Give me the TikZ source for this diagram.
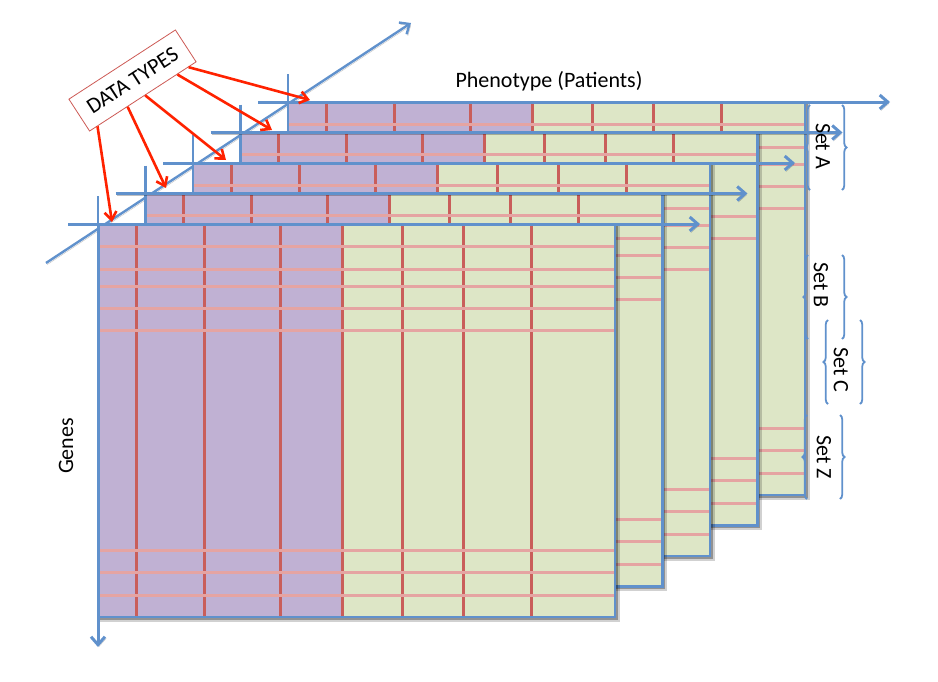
\documentclass[tikz,border=0pt]{standalone}
\usepackage{fontspec}
\setmainfont{Carlito}
\usetikzlibrary{arrows.meta,decorations.pathreplacing,calc}
\definecolor{axblue}{RGB}{96,145,204}
\definecolor{purp}{RGB}{192,177,211}
\definecolor{grn}{RGB}{221,230,198}
\definecolor{vred}{RGB}{201,94,90}
\definecolor{hpink}{RGB}{229,164,162}
\definecolor{arrred}{RGB}{255,34,0}
\definecolor{boxred}{RGB}{205,90,85}
\begin{document}
\begin{tikzpicture}[x=1pt,y=-1pt,
  axisarrow/.style={draw=axblue, line width=3pt, -{Straight Barb[length=8pt,width=14pt]},
    preaction={draw=black, opacity=0.25, transform canvas={shift={(1.2pt,-1.6pt)}}}},
  layeredge/.style={draw=axblue, line width=2.2pt},
  vline/.style={draw=vred, line width=3pt},
  hline/.style={draw=hpink, line width=3pt},
  redarrow/.style={draw=arrred, line width=2.6pt, -{Straight Barb[length=8pt,width=12pt]}},
  setbrace/.style={draw=axblue, line width=1.8pt, decorate, decoration={brace, amplitude=4.5pt}},
  lbl/.style={font=\fontsize{22}{26}\selectfont, inner sep=0pt}]
\useasboundingbox (0,0) rectangle (938,681);
\def\W{517}
\def\H{393}
\def\PW{244}
% diagonal axis
\coordinate (d0) at (46,263);
\coordinate (d1) at (411,23);
\draw[axisarrow, line width=2.4pt] (d0) -- (d1);
% layers, back to front
\foreach \i in {4,3,2,1,0}{
  \ifnum\i=3 \def\rows{22,84,106}\else \def\rows{22,45,62,84,106}\fi
  \begin{scope}[shift={({98+47.5*\i},{224-30.5*\i})}]
    \fill[black, opacity=0.18] (1,1) rectangle (\W+4.5,\H+4.5);
    \fill[black, opacity=0.3] (1,1) rectangle (\W+2.5,\H+2.5);
    \fill[purp] (0,0) rectangle (\PW,\H);
    \fill[grn] (\PW,0) rectangle (\W,\H);
    \foreach \c in {38,106,182,244,304,365,433}
      \draw[vline] (\c,0) -- (\c,\H);
    \foreach \r in \rows
      \draw[hline] (0,\r) -- (\W,\r);
    \foreach \r in {326,348,371}
      \draw[hline] (0,\r) -- (\W,\r);
    \draw[layeredge] (0,0) rectangle (\W,\H);
    \coordinate (L\i-tick) at (0,-28);
    \coordinate (L\i-tl) at (0,0);
    \coordinate (L\i-s) at (-30,0);
    \coordinate (L\i-e) at (\W+85,0);
    \draw[layeredge, line width=2.6pt] (L\i-tick) -- (L\i-tl);
    \draw[axisarrow] (L\i-s) -- (L\i-e);
  \end{scope}
}
% genes axis
\coordinate (gend) at (98,647);
\draw[axisarrow] (L0-tl) -- (gend);
% labels
\node[lbl, anchor=base] (pheno) at (549,87) {Phenotype (Patients)};
\node[lbl, rotate=90] (genes) at (66,446) {Genes};
% data types box
\node[draw=boxred, line width=0.8pt, fill=white, rotate=33, minimum width=127pt, minimum height=38pt, inner sep=0pt, font=\fontsize{22}{26}\selectfont] (dt) at (132.5,80.5) {DATA TYPES};
\coordinate (s0) at ($(dt.south west)!0.075!(dt.south east)$);
\coordinate (s1) at ($(dt.south west)!0.356!(dt.south east)$);
\coordinate (s2) at ($(dt.south west)!0.52!(dt.south east)$);
\coordinate (s3) at ($(dt.south west)!0.82!(dt.south east)$);
\coordinate (s4) at ($(dt.south west)!0.925!(dt.south east)$);
\coordinate (t0) at (112,222);
\coordinate (t1) at (166,188);
\coordinate (t2) at (226,160);
\coordinate (t3) at (272,130);
\coordinate (t4) at (310,100);
\foreach \k in {0,...,4} \draw[redarrow] (s\k) -- (t\k);
% set braces
\coordinate (A1) at (810,105); \coordinate (A2) at (810,190);
\coordinate (A3) at (842,105); \coordinate (A4) at (842,190);
\coordinate (B1) at (808,255); \coordinate (B2) at (808,339);
\coordinate (B3) at (842,255); \coordinate (B4) at (842,339);
\coordinate (C1) at (828,320); \coordinate (C2) at (828,404);
\coordinate (C3) at (860,320); \coordinate (C4) at (860,404);
\coordinate (Z1) at (807,415); \coordinate (Z2) at (807,499);
\coordinate (Z3) at (840,415); \coordinate (Z4) at (840,499);
\foreach \s in {A,B,C,Z}{
  \draw[setbrace] (\s2) -- (\s1);
  \draw[setbrace] (\s3) -- (\s4);
}
\node[lbl, rotate=-90] (setA) at (823,146) {Set A};
\node[lbl, rotate=-90] (setB) at (821,285) {Set B};
\node[lbl, rotate=-90] (setC) at (841,370) {Set C};
\node[lbl, rotate=-90] (setZ) at (824,457) {Set Z};
\end{tikzpicture}
\end{document}
